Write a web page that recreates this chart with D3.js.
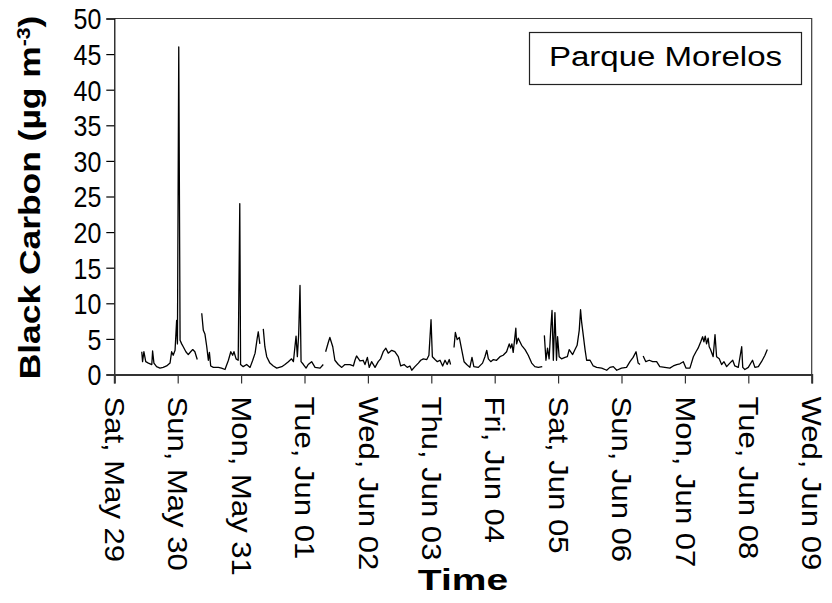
<!DOCTYPE html>
<html>
<head>
<meta charset="utf-8">
<script src="https://cdn.jsdelivr.net/npm/d3@7/dist/d3.min.js"></script>
<style>
  body { margin: 0; background: #fff; }
  svg { display: block; }
  text { font-family: "Liberation Sans", Arial, Helvetica, sans-serif; fill: #000; }
</style>
</head>
<body>
<svg id="chart" width="832" height="603"></svg>
<script>
// Black carbon at Parque Morelos, hours counted from Sat 29 May 2010 00:00
const seriesStart = Date.UTC(2010, 4, 29, 0, 0);
const dayTicks = ["2010-05-29","2010-05-30","2010-05-31","2010-06-01","2010-06-02","2010-06-03",
                  "2010-06-04","2010-06-05","2010-06-06","2010-06-07","2010-06-08","2010-06-09"];
const dayLabels = ["Sat, May 29","Sun, May 30","Mon, May 31","Tue, Jun 01","Wed, Jun 02","Thu, Jun 03",
                   "Fri, Jun 04","Sat, Jun 05","Sun, Jun 06","Mon, Jun 07","Tue, Jun 08","Wed, Jun 09"];
const yTicks = [0, 5, 10, 15, 20, 25, 30, 35, 40, 45, 50];
const siteName = "Parque Morelos";

const hours = [
  10.4,10.7,11.2,11.9,12.9,14.2,14.5,15.0,16.0,17.3,18.5,19.8,21.1,21.7,22.3,23.0,23.6,23.9,24.4,24.9,
  25.5,26.1,27.1,28.0,28.9,29.7,30.5,31.4,32.3,33.1,33.7,34.3,35.0,35.6,36.0,36.5,37.5,39.4,40.6,41.9,
  43.2,44.1,44.8,45.3,46.1,46.9,47.5,47.8,48.8,50.1,51.4,52.4,53.3,54.1,54.5,55.1,55.8,56.4,57.0,57.7,
  58.9,60.2,61.5,63.4,64.6,65.9,67.1,67.8,68.8,69.3,69.8,70.3,70.7,71.6,72.6,73.4,74.7,76.0,77.9,79.1,
  79.6,80.0,81.0,81.6,82.7,83.5,84.8,86.1,87.3,89.2,90.5,91.1,91.7,93.0,94.2,94.9,95.8,96.5,97.4,98.7,
  99.9,100.8,101.8,102.8,103.7,105.0,106.2,107.5,108.4,109.7,110.9,111.9,112.6,113.8,115.1,116.0,117.0,118.3,119.1,119.9,
  120.4,121.4,122.3,123.3,124.3,125.2,126.0,126.8,127.3,128.0,128.6,129.1,129.8,130.6,131.5,132.4,133.4,134.6,135.4,136.1,
  137.8,139.4,140.3,141.0,141.6,142.5,143.5,144.7,146.0,147.2,148.5,149.5,150.0,150.5,151.0,152.0,152.3,152.9,154.2,155.5,
  156.7,158.0,159.2,160.5,162.0,162.4,162.8,163.4,164.0,164.6,165.3,165.7,166.2,166.8,167.4,167.8,168.4,169.3,170.6,171.5,
  172.2,173.5,174.4,175.2,176.0,176.5,176.9,177.3,178.2,178.8,180.1,181.3,182.6,184.5,186.4,187.6,188.9,190.2,192.0,193.9,
  195.2,196.4,197.5,198.3,199.0,199.6,200.2,201.2,202.5,203.8,205.3,206.5,208.4,210.3,211.6,212.9,214.1,215.4,216.4,217.9,
  219.2,220.2,221.0,222.0,222.7,223.2,223.7,224.2,224.8,225.2,225.7,226.7,227.4,228.0,229.0,229.9,230.8,231.8,233.0,234.1,
  234.9,236.2,237.5,237.9,238.7,240.0,241.6,242.5,243.8,245.0,246.3,247.2
];
// µg m-3; null marks a break in the record
const bc = [
  3.2,1.8,3.2,1.8,1.6,1.4,3.3,1.6,1.1,0.9,1.0,1.2,1.6,3.2,2.7,3.4,7.6,4.3,46,4.8,
  4.3,3.9,3.2,2.8,3.2,3.5,3.2,2.1,null,8.6,6.2,5.7,3.9,2.0,3.1,1.2,1.0,1.0,0.9,0.7,
  2.0,3.2,2.7,3.2,2.2,2.0,24,1.4,1.1,1.4,1.0,2.0,3.0,5.1,6.0,4.3,null,6.4,3.9,2.5,
  1.6,1.2,0.9,1.1,1.4,1.8,2.2,1.8,5.4,2.5,5.7,12.5,1.8,1.4,0.9,1.4,1.8,1.0,0.9,1.4,
  null,3.2,4.5,5.2,3.9,2.0,1.4,1.0,1.4,1.4,1.2,2.0,2.6,1.9,2.0,1.4,2.4,1.0,1.8,1.0,
  1.8,2.2,3.2,3.7,3.0,3.4,3.2,2.5,1.2,1.4,1.0,1.2,0.6,1.1,1.6,2.0,2.2,2.1,2.7,7.7,
  2.5,2.1,1.8,2.0,1.2,2.0,1.4,2.1,1.4,null,3.8,5.9,4.9,5.2,3.5,1.8,1.4,1.0,2.4,1.1,
  1.0,1.6,2.5,3.4,2.2,1.8,2.1,2.0,2.5,2.7,3.2,4.3,3.7,4.3,3.1,6.5,4.3,5.1,4.1,3.5,
  2.7,1.6,1.1,1.0,1.1,null,5.5,2.0,3.7,2.2,6.8,9.0,2.0,8.7,2.0,5.3,2.5,2.2,2.4,2.5,
  3.5,2.8,3.5,4.1,6.2,9.1,7.4,6.2,3.5,2.0,2.0,1.2,1.0,0.9,0.6,1.0,1.1,0.6,0.9,1.0,
  1.8,2.4,3.2,1.6,1.4,null,2.6,1.8,2.0,1.8,1.8,1.1,1.0,0.9,1.2,1.4,1.5,1.8,0.9,0.9,
  2.5,3.2,3.7,4.6,5.3,4.6,5.4,4.3,5.1,3.9,3.5,2.5,5.6,2.5,2.2,1.4,1.8,1.1,1.6,2.0,
  1.2,1.0,3.9,1.0,0.7,1.0,2.0,1.0,1.1,1.8,2.7,3.5
];

const svg = d3.select("#chart");
const plot = { left: 114.3, right: 811.7, top: 18.5, bottom: 374.5 };

const x = d3.scaleUtc()
  .domain([new Date(dayTicks[0] + "T00:00:00Z"), new Date(dayTicks[dayTicks.length - 1] + "T00:00:00Z")])
  .range([plot.left, plot.right]);
const y = d3.scaleLinear().domain([0, 50]).range([plot.bottom, plot.top]);

const points = hours.map((h, i) => ({ t: new Date(seriesStart + h * 3600e3), v: bc[i] }));

// plot frame (top and right edges)
svg.append("path")
  .attr("d", `M${plot.left},${plot.top}H${plot.right}V${plot.bottom}`)
  .attr("fill", "none").attr("stroke", "#3a3a3a").attr("stroke-width", 1.2);

// y axis
const yAxis = d3.axisLeft(y).tickValues(yTicks).tickSize(8).tickPadding(5).tickFormat(d3.format("d"));
const gy = svg.append("g").attr("transform", `translate(${plot.left},0)`).call(yAxis);
gy.select(".domain").attr("stroke", "#000").attr("stroke-width", 1.2);
gy.selectAll(".tick line").attr("stroke", "#000").attr("stroke-width", 1.2);
gy.selectAll(".tick text")
  .style("font-size", "25px")
  .attr("x", null).attr("dy", "0.36em")
  .attr("transform", "translate(-13,0) scale(1,1.15)");

// x axis with one tick per day, labels turned to read downwards
const xAxis = d3.axisBottom(x)
  .tickValues(dayTicks.map(d => new Date(d + "T00:00:00Z")))
  .tickSize(9).tickFormat((d, i) => dayLabels[i]);
const gx = svg.append("g").attr("transform", `translate(0,${plot.bottom})`).call(xAxis);
gx.select(".domain").attr("stroke", "#333").attr("stroke-width", 2);
gx.selectAll(".tick line").attr("stroke", "#333").attr("stroke-width", 1.2);
gx.selectAll(".tick text")
  .style("font-size", "27px")
  .attr("text-anchor", "start")
  .attr("x", 0).attr("y", 0).attr("dy", "0.36em")
  .attr("transform", "translate(0,22) rotate(90) scale(1.15,1)");

// black carbon trace
const line = d3.line()
  .defined(d => d.v !== null)
  .x(d => x(d.t)).y(d => y(d.v));
svg.append("path")
  .datum(points)
  .attr("d", line)
  .attr("fill", "none")
  .attr("stroke", "#000")
  .attr("stroke-width", 1.3)
  .attr("stroke-linejoin", "round");

// site label box
const box = svg.append("g");
box.append("rect")
  .attr("x", 529.5).attr("y", 32.5).attr("width", 272).attr("height", 52)
  .attr("fill", "#fff").attr("stroke", "#222").attr("stroke-width", 1.2);
box.append("text")
  .attr("transform", "translate(665.5,66) scale(1.18,1)")
  .attr("text-anchor", "middle")
  .style("font-size", "28px")
  .text(siteName);

// axis titles
svg.append("text")
  .attr("transform", `translate(${(plot.left + plot.right) / 2},590) scale(1.3,1)`)
  .attr("text-anchor", "middle")
  .style("font-size", "30px").style("font-weight", "bold")
  .text("Time");

const yt = svg.append("text")
  .attr("transform", `translate(40,${(plot.top + plot.bottom) / 2 + 1}) rotate(-90) scale(1.18,1)`)
  .attr("text-anchor", "middle")
  .style("font-size", "30px").style("font-weight", "bold");
yt.append("tspan").text("Black Carbon (µg m");
yt.append("tspan").attr("dy", "-0.55em").style("font-size", "18px").text("-3");
yt.append("tspan").attr("dy", "0.33em").text(")");
</script>
</body>
</html>
